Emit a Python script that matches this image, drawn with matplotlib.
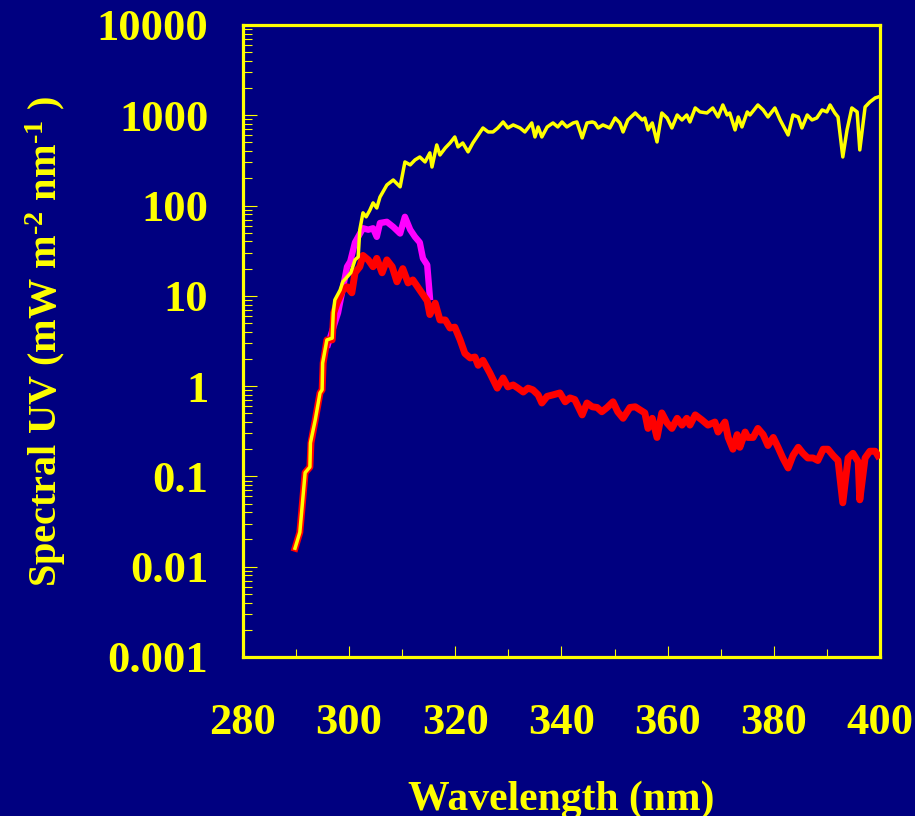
import matplotlib
matplotlib.use("Agg")
import matplotlib.pyplot as plt
import matplotlib.ticker as mticker

plt.rcParams["font.family"] = ["Liberation Serif", "DejaVu Serif"]
plt.rcParams["font.weight"] = "bold"
plt.rcParams["mathtext.fontset"] = "custom"
plt.rcParams["mathtext.rm"] = "Liberation Serif:bold"
plt.rcParams["mathtext.it"] = "Liberation Serif:bold"
plt.rcParams["mathtext.bf"] = "Liberation Serif:bold"

BG = "#000080"
YEL = "#FFFF00"

# extraterrestrial-like spectrum (yellow)
wl_top = [289.8, 290.7, 291.7, 292.6, 292.7, 293.6, 294.5, 294.9, 295.0, 295.8, 296.8, 297.0,
          297.3, 298.3, 298.8, 300.3, 301.1, 301.7, 302.0, 302.6, 303.2, 303.9, 304.5, 305.2,
          305.8, 307.1, 308.3, 309.6, 310.5, 311.5, 312.4, 313.3, 314.3, 315.2, 315.6, 316.5,
          317.1, 318.1, 319.0, 319.9, 320.5, 321.4, 322.4, 323.3, 324.7, 325.2, 326.2, 327.1,
          328.0, 329.0, 329.9, 330.9, 332.2, 333.1, 334.4, 335.0, 335.6, 336.3, 337.3, 338.4,
          339.3, 340.1, 341.0, 342.2, 342.9, 343.9, 344.8, 345.8, 346.3, 346.9, 347.8, 349.1,
          350.1, 351.0, 351.6, 352.5, 353.9, 355.2, 355.7, 356.3, 357.1, 358.0, 358.9, 359.9,
          360.8, 361.8, 362.7, 363.6, 364.2, 365.2, 366.1, 367.4, 368.5, 369.5, 370.4, 371.2,
          371.7, 372.7, 373.3, 374.0, 375.0, 375.5, 377.0, 378.0, 378.9, 380.2, 381.2, 382.7,
          383.6, 384.6, 385.3, 386.3, 387.2, 388.1, 389.1, 390.0, 390.6, 391.5, 392.1, 393.0,
          393.8, 394.7, 395.7, 396.2, 397.2, 398.1, 399.1, 399.6]
uv_top = [0.016, 0.024, 0.11, 0.127, 0.235, 0.42, 0.84, 0.91, 1.8, 3.25, 3.4, 6.5,
          9.0, 11.6, 14.3, 18, 25, 27, 54, 83, 75, 89, 107, 94,
          124, 169, 192, 161, 304, 282, 320, 345, 304, 383, 267, 469,
          363, 434, 493, 575, 446, 493, 393, 493, 653, 723, 653, 653,
          723, 843, 723, 781, 723, 653, 822, 575, 742, 575, 742, 822,
          742, 843, 742, 822, 843, 561, 822, 843, 822, 723, 781, 723,
          933, 822, 653, 887, 1060, 887, 933, 688, 822, 506, 1060, 933,
          723, 1007, 887, 1007, 843, 1205, 1089, 1060, 1205, 957, 1300, 1007,
          1060, 688, 957, 742, 1089, 1007, 1300, 1145, 957, 1205, 887, 605,
          1007, 957, 723, 1007, 887, 933, 1145, 1089, 1300, 1060, 957, 345,
          688, 1205, 1089, 413, 1236, 1403, 1556, 1590]

# magenta spectrum
wl_mag = [296.0, 297.9, 299.6, 300.2, 301.1, 302.6, 303.6, 304.5, 305.2, 305.8, 307.1,
          308.3, 309.6, 310.5, 311.5, 312.4, 313.3, 313.9, 314.7, 315.2]
uv_mag = [2.9, 6.5, 21, 24, 39, 56, 54, 56, 45, 64, 66,
          58, 49, 75, 54, 45, 39, 26, 22, 9.7]

# red (surface) spectrum
wl_red = [289.8, 290.7, 291.7, 292.6, 292.8, 293.6, 294.5, 294.9, 295.1, 295.8, 296.8, 297.1,
          297.7, 298.8, 299.6, 300.5, 301.1, 302.0, 302.6, 303.6, 304.5, 305.2, 306.2, 307.1,
          308.1, 309.0, 310.1, 311.1, 312.0, 313.3, 314.7, 315.2, 316.2, 317.1, 318.1, 319.0,
          319.9, 320.9, 321.8, 322.8, 323.7, 324.3, 325.2, 326.5, 327.9, 329.0, 329.9, 330.9,
          331.8, 332.8, 333.7, 334.6, 335.6, 336.3, 337.3, 338.4, 339.7, 340.7, 341.6, 342.5,
          343.9, 344.8, 345.8, 346.7, 347.6, 348.6, 349.7, 350.6, 351.6, 352.9, 353.9, 354.8,
          355.7, 356.3, 357.1, 358.0, 358.9, 359.9, 360.8, 361.8, 362.7, 363.6, 364.2, 365.2,
          366.5, 367.6, 368.9, 369.5, 370.8, 371.4, 372.3, 373.1, 373.6, 374.6, 375.1, 376.1,
          377.0, 378.0, 378.9, 379.9, 380.8, 381.7, 382.7, 383.6, 384.6, 385.5, 386.4, 387.4,
          388.3, 389.3, 390.2, 391.2, 392.1, 393.0, 394.0, 394.9, 395.9, 396.2, 397.2, 398.1,
          399.1, 399.6]
uv_red = [0.016, 0.024, 0.11, 0.127, 0.235, 0.42, 0.84, 0.91, 1.8, 3.25, 3.25, 6.5,
          8.3, 11.6, 12.6, 10.8, 18, 21, 28, 25, 21, 26, 18, 25,
          21, 14.3, 20, 13.9, 15, 11.6, 8.8, 6.2, 8.3, 5.4, 5.4, 4.4,
          4.5, 3.25, 2.3, 2.05, 2.1, 1.7, 1.93, 1.4, 0.95, 1.23, 0.98, 1.03,
          0.95, 0.86, 0.95, 0.91, 0.80, 0.65, 0.77, 0.80, 0.84, 0.67, 0.74, 0.71,
          0.48, 0.65, 0.59, 0.58, 0.52, 0.58, 0.67, 0.52, 0.44, 0.58, 0.59, 0.545,
          0.505, 0.34, 0.44, 0.27, 0.505, 0.39, 0.34, 0.44, 0.37, 0.44, 0.37, 0.48,
          0.42, 0.37, 0.40, 0.31, 0.40, 0.27, 0.20, 0.29, 0.21, 0.31, 0.27, 0.27,
          0.34, 0.29, 0.22, 0.27, 0.21, 0.16, 0.124, 0.17, 0.21, 0.18, 0.16, 0.16,
          0.15, 0.20, 0.20, 0.17, 0.15, 0.051, 0.16, 0.18, 0.145, 0.055, 0.16, 0.19,
          0.19, 0.17]

x_major = [280, 300, 320, 340, 360, 380, 400]
y_major = [0.001, 0.01, 0.1, 1, 10, 100, 1000, 10000]

fig = plt.figure(figsize=(9.15, 8.16), dpi=100, facecolor=BG)
ax = fig.add_axes([0.2656, 0.1949, 0.6961, 0.7745], facecolor=BG)

ax.plot(wl_mag, uv_mag, color="#FF00FF", lw=4.6, solid_joinstyle="round", zorder=2)
ax.plot(wl_red, uv_red, color="#FF0000", lw=5.0, solid_joinstyle="round", zorder=3)
ax.plot(wl_top, uv_top, color=YEL, lw=2.5, solid_joinstyle="round", zorder=4)

ax.set_yscale("log")
ax.set_xlim(280, 400)
ax.set_ylim(0.001, 10000)

ax.xaxis.set_major_locator(mticker.FixedLocator(x_major))
ax.xaxis.set_minor_locator(mticker.MultipleLocator(10))
ax.yaxis.set_major_locator(mticker.FixedLocator(y_major))
ax.yaxis.set_minor_locator(mticker.LogLocator(base=10, subs=range(2, 10), numticks=20))
ax.yaxis.set_major_formatter(mticker.FuncFormatter(lambda v, p: f"{v:g}"))
ax.yaxis.set_minor_formatter(mticker.NullFormatter())

for s in ax.spines.values():
    s.set_color(YEL)
    s.set_linewidth(2.3)

ax.tick_params(axis="both", which="both", direction="in", colors=YEL, width=0.8,
               top=False, right=False, labelsize=32)
ax.tick_params(axis="y", which="major", length=10, pad=25)
ax.tick_params(axis="y", which="minor", length=6.5)
ax.tick_params(axis="x", which="major", length=8, pad=33)
ax.tick_params(axis="x", which="minor", length=6)
for lab in ax.get_xticklabels() + ax.get_yticklabels():
    lab.set_fontweight("bold")
    lab.set_color(YEL)

ax.set_xlabel("Wavelength (nm)", fontsize=30, fontweight="bold", color=YEL, va="top")
ax.xaxis.set_label_coords(0.5, -0.195)
# hyphen-style superscripts as in the original slide
ylab = "Spectral UV (mW m$^{\\mathrm{\u2010}2}$ nm$^{\\mathrm{\u2010}1}$ )"
ax.set_ylabel(ylab, fontsize=29, fontweight="bold", color=YEL)
ax.yaxis.set_label_coords(-0.275, 0.50)

fig.savefig("out.png", dpi=100, facecolor=BG)
